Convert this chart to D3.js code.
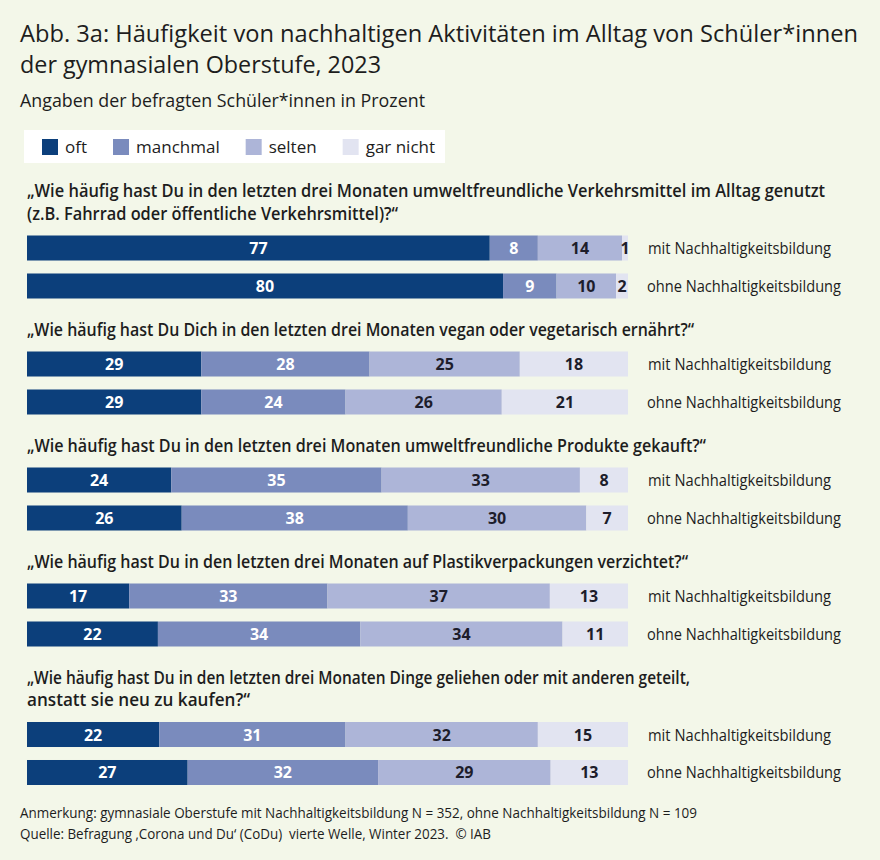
<!DOCTYPE html>
<html lang="de">
  <head>
    <meta charset="utf-8" />
    <title>Abb. 3a Nachhaltige Aktivitäten</title>
    <script src="https://d3js.org/d3.v7.js"></script>
    <style>
      body { margin: 0; background: #f3f7e9; }
      text { font-family: "Open Sans", "Noto Sans", sans-serif; fill: #1d1d1d; }
    </style>
  </head>
  <body>
    <div id="graph"></div>
    <script>

    // data
    var categories = ["oft", "manchmal", "selten", "gar nicht"];
    var groups = ["mit Nachhaltigkeitsbildung", "ohne Nachhaltigkeitsbildung"];
    var questions = [
      ["„Wie häufig hast Du in den letzten drei Monaten umweltfreundliche Verkehrsmittel im Alltag genutzt",
       "(z.B. Fahrrad oder öffentliche Verkehrsmittel)?“"],
      ["„Wie häufig hast Du Dich in den letzten drei Monaten vegan oder vegetarisch ernährt?“"],
      ["„Wie häufig hast Du in den letzten drei Monaten umweltfreundliche Produkte gekauft?“"],
      ["„Wie häufig hast Du in den letzten drei Monaten auf Plastikverpackungen verzichtet?“"],
      ["„Wie häufig hast Du in den letzten drei Monaten Dinge geliehen oder mit anderen geteilt,",
       "anstatt sie neu zu kaufen?“"]
    ];
    // one value per row: question 1 mit, question 1 ohne, question 2 mit, ...
    var oft      = [77, 80, 29, 29, 24, 26, 17, 22, 22, 27];
    var manchmal = [ 8,  9, 28, 24, 35, 38, 33, 34, 31, 32];
    var selten   = [14, 10, 25, 26, 33, 30, 37, 34, 32, 29];
    var garNicht = [ 1,  2, 18, 21,  8,  7, 13, 11, 15, 13];

    var title = ["Abb. 3a: Häufigkeit von nachhaltigen Aktivitäten im Alltag von Schüler*innen",
                 "der gymnasialen Oberstufe, 2023"];
    var subtitle = "Angaben der befragten Schüler*innen in Prozent";
    var notes = ["Anmerkung: gymnasiale Oberstufe mit Nachhaltigkeitsbildung N = 352, ohne Nachhaltigkeitsbildung N = 109",
                 "Quelle: Befragung ‚Corona und Du‘ (CoDu)  vierte Welle, Winter 2023.  © IAB"];

    var w = 880, h = 860;
    var colors = d3.scaleOrdinal()
      .domain(categories)
      .range(["#0c3f7b", "#7a8bbd", "#adb5d8", "#e2e4f1"]);
    var labelColors = d3.scaleOrdinal()
      .domain(categories)
      .range(["#ffffff", "#ffffff", "#1d1d2b", "#1d1d2b"]);

    var svg = d3.select("#graph")
      .append("svg")
        .attr("width", w)
        .attr("height", h);

    svg.append("rect")
      .attr("width", w)
      .attr("height", h)
      .attr("fill", "#f3f7e9");

    // squeeze a text to a given width (source font is narrower than ours)
    function fit(sel, width) {
      var len = sel.node().getComputedTextLength();
      if (len > width) sel.attr("textLength", width).attr("lengthAdjust", "spacingAndGlyphs");
      return sel;
    }

    // title
    var titleWidths = [838, 361];
    title.forEach(function (t, i) {
      fit(svg.append("text")
        .attr("x", 20)
        .attr("y", 42 + i * 31)
        .attr("font-size", 24)
        .text(t), titleWidths[i]);
    });
    fit(svg.append("text")
      .attr("x", 20)
      .attr("y", 107)
      .attr("font-size", 18)
      .attr("fill", "#222")
      .text(subtitle), 405);

    // legend
    svg.append("rect")
      .attr("x", 24)
      .attr("y", 130)
      .attr("width", 421)
      .attr("height", 33)
      .attr("fill", "#ffffff");

    var lx = 42;
    categories.forEach(function (c) {
      svg.append("rect")
        .attr("x", lx)
        .attr("y", 139)
        .attr("width", 16)
        .attr("height", 16)
        .attr("fill", colors(c));
      var t = svg.append("text")
        .attr("x", lx + 23)
        .attr("y", 153)
        .attr("font-size", 17)
        .attr("fill", "#222")
        .text(c);
      lx += 23 + t.node().getComputedTextLength() + 26;
    });

    // scales
    var x = d3.scaleLinear()
      .domain([0, 1])
      .range([27, 628]);

    var yRow = d3.scaleBand()
      .domain(groups)
      .range([0, 63])
      .paddingInner(0.342)
      .paddingOuter(0);

    var qWidths = [[798, 371], [667], [679], [661], [663, 223]];
    var lineH = 22.5;
    var cursor = 197;

    questions.forEach(function (q, qi) {
      var g = svg.append("g");

      q.forEach(function (line, li) {
        fit(g.append("text")
          .attr("x", 27)
          .attr("y", cursor + li * lineH)
          .attr("font-size", 17.5)
          .attr("font-weight", 600)
          .text(line), qWidths[qi][li]);
      });

      var barTop = cursor + (q.length - 1) * lineH + 16;

      groups.forEach(function (grp, gi) {
        var r = qi * 2 + gi;
        var vals = [oft[r], manchmal[r], selten[r], garNicht[r]];
        var total = d3.sum(vals);
        var acc = 0;
        var segs = categories.map(function (c, ci) {
          var s = { cat: c, value: vals[ci], x0: acc / total, x1: (acc + vals[ci]) / total };
          acc += vals[ci];
          return s;
        });

        var row = g.append("g")
          .attr("transform", "translate(0," + (barTop + yRow(grp)) + ")");

        row.selectAll("rect")
          .data(segs)
          .join("rect")
            .attr("x", function (d) { return x(d.x0); })
            .attr("y", 0)
            .attr("width", function (d) { return x(d.x1) - x(d.x0); })
            .attr("height", yRow.bandwidth())
            .attr("fill", function (d) { return colors(d.cat); });

        row.selectAll("text.val")
          .data(segs)
          .join("text")
            .attr("class", "val")
            .attr("x", function (d) { return (x(d.x0) + x(d.x1)) / 2; })
            .attr("y", yRow.bandwidth() / 2 + 6)
            .attr("text-anchor", "middle")
            .attr("font-size", 16)
            .attr("font-weight", 700)
            .style("fill", function (d) { return labelColors(d.cat); })
            .text(function (d) { return d.value; });

        fit(row.append("text")
          .attr("x", gi === 0 ? 648 : 647)
          .attr("y", yRow.bandwidth() / 2 + 6)
          .attr("font-size", 16.5)
          .attr("fill", "#222")
          .text(grp), gi === 0 ? 183 : 194);
      });

      cursor = barTop + 63 + 37;
    });

    // notes (keep the double spaces of the source)
    var noteWidths = [677, 471];
    notes.forEach(function (t, i) {
      fit(svg.append("text")
        .attr("x", 20)
        .attr("y", 818 + i * 21)
        .attr("font-size", 15)
        .attr("fill", "#222")
        .style("white-space", "pre")
        .text(t), noteWidths[i]);
    });

    </script>
  </body>
</html>
